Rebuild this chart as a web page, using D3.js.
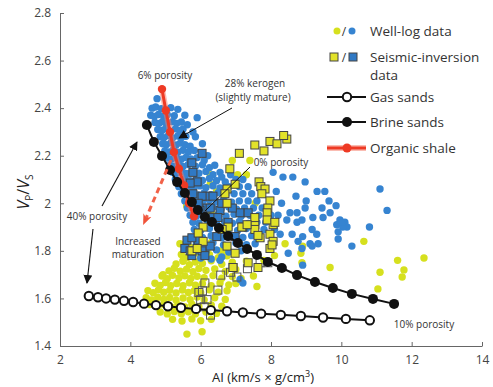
<!DOCTYPE html>
<html><head><meta charset="utf-8">
<script src="https://cdn.jsdelivr.net/npm/d3@7"></script>
<style>body{margin:0;background:#fff}svg{display:block}text{font-family:"Open Sans",sans-serif}</style>
</head><body><svg id="c" width="493" height="387"></svg>
<script>
// ---------- DATA ----------
const xTicks = [2,4,6,8,10,12,14];
const yTicks = [1.4,1.6,1.8,2.0,2.2,2.4,2.6,2.8];
const yTickLabels = ["1.4","1.6","1.8","2","2.2","2.4","2.6","2.8"];

const gasSands = [[2.82,1.61],[3.08,1.605],[3.31,1.60],[3.56,1.595],[3.82,1.59],[4.08,1.585],[4.39,1.578],[4.73,1.572],[5.07,1.567],[5.44,1.561],[5.87,1.556],[6.29,1.551],[6.75,1.546],[7.20,1.541],[7.72,1.536],[8.28,1.531],[8.85,1.526],[9.48,1.520],[10.13,1.514],[10.81,1.508]];
const brineSands = [[4.47,2.329],[4.67,2.258],[4.90,2.199],[5.13,2.14],[5.33,2.089],[5.55,2.043],[5.75,2.005],[5.92,1.972],[6.12,1.942],[6.32,1.921],[6.52,1.896],[6.78,1.862],[7.06,1.833],[7.32,1.808],[7.60,1.783],[7.91,1.753],[8.31,1.728],[8.74,1.698],[9.25,1.669],[9.76,1.644],[10.30,1.619],[10.90,1.598],[11.50,1.577]];
const organicShale = [[4.90,2.48],[5.01,2.39],[5.13,2.30],[5.24,2.215],[5.38,2.145],[5.53,2.075],[5.67,2.0],[5.81,1.945]];

const wellLogBlue = [
[4.76,2.44],
[4.62,2.40],[4.72,2.405],[4.88,2.398],[5.15,2.402],[5.35,2.395],
[4.58,2.37],[4.68,2.365],[4.8,2.373],[4.95,2.366],[5.05,2.372],[5.25,2.368],[5.55,2.37],[5.9,2.36],
[4.7,2.34],[4.82,2.336],[4.92,2.344],[5.02,2.335],[5.2,2.343],[5.32,2.336],[5.45,2.342],[5.62,2.33],
[4.78,2.31],[4.9,2.306],[5.0,2.314],[5.1,2.305],[5.28,2.313],[5.4,2.306],[5.5,2.312],[5.78,2.30],
[4.85,2.28],[4.95,2.276],[5.08,2.284],[5.2,2.275],[5.35,2.283],[5.45,2.276],[5.58,2.282],[5.85,2.28],[6.05,2.25],
[4.92,2.25],[5.02,2.246],[5.15,2.254],[5.3,2.245],[5.42,2.253],[5.55,2.246],[5.7,2.24],
[4.98,2.22],[5.1,2.216],[5.22,2.224],[5.35,2.215],[5.5,2.223],[5.65,2.216],[5.82,2.222],[6.2,2.20],
[5.05,2.19],[5.18,2.186],[5.3,2.194],[5.45,2.185],[5.58,2.193],[5.72,2.186],[5.9,2.192],[6.1,2.18],[6.4,2.16],
[5.12,2.16],[5.25,2.156],[5.38,2.164],[5.5,2.155],[5.65,2.163],[5.85,2.156],[6.05,2.162],[6.25,2.15],[6.55,2.13],
[5.2,2.13],[5.32,2.126],[5.45,2.134],[5.6,2.125],[5.75,2.133],[5.95,2.126],[6.15,2.134],[6.35,2.12],[6.6,2.11],[6.85,2.12],
[5.28,2.10],[5.4,2.096],[5.55,2.104],[5.7,2.095],[5.88,2.103],[6.05,2.096],[6.25,2.104],[6.45,2.095],[6.7,2.09],[7.0,2.10],[7.2,2.10],
[5.38,2.07],[5.5,2.066],[5.65,2.074],[5.8,2.065],[5.98,2.073],[6.15,2.066],[6.35,2.074],[6.55,2.065],[6.8,2.07],[7.1,2.07],[7.35,2.07],
[5.45,2.04],[5.6,2.036],[5.75,2.044],[5.92,2.035],[6.1,2.043],[6.3,2.036],[6.5,2.044],[6.72,2.035],[6.95,2.04],[7.2,2.04],[7.45,2.04],
[5.55,2.01],[5.7,2.006],[5.88,2.014],[6.05,2.005],[6.25,2.013],[6.45,2.006],[6.65,2.014],[6.88,2.005],[7.1,2.01],[7.35,2.01],[7.6,2.01],
[5.62,1.98],[5.8,1.976],[5.98,1.984],[6.15,1.975],[6.35,1.983],[6.58,1.976],[6.8,1.984],[7.02,1.975],[7.25,1.98],[7.5,1.98],[7.75,1.98],
[5.7,1.95],[5.88,1.946],[6.08,1.954],[6.3,1.945],[6.5,1.953],[6.72,1.946],[6.95,1.954],[7.15,1.945],[7.4,1.95],[7.65,1.95],[8.0,1.95],
[5.78,1.92],[5.95,1.916],[6.2,1.924],[6.45,1.915],[6.68,1.923],[6.9,1.916],[7.1,1.924],[7.35,1.915],[7.6,1.92],[7.85,1.92],
[5.82,1.89],[6.0,1.886],[6.25,1.894],[6.55,1.885],[6.8,1.893],[7.05,1.886],[7.3,1.894],[7.55,1.885],[7.8,1.89],[8.1,1.89],
[5.85,1.86],[6.05,1.856],[6.3,1.864],[6.6,1.855],[6.9,1.863],[7.2,1.856],[7.45,1.864],[7.7,1.86],
[5.88,1.83],[6.1,1.826],[6.35,1.834],[6.65,1.825],[7.0,1.833],[7.3,1.826],[7.55,1.83],
[5.9,1.80],[6.15,1.796],[6.45,1.804],[6.8,1.795],[7.15,1.80],
[6.0,1.77],[6.3,1.766],[6.6,1.774],
[8.06,2.13],[8.34,2.11],[8.62,2.11],[8.97,2.09],[8.71,2.03],[9.31,2.05],[9.53,2.05],[9.65,2.01],[9.45,1.98],[9.85,1.99],
[11.1,2.06],[11.3,1.97],[8.97,1.98],[8.74,1.96],[8.54,1.96],[8.88,1.93],[9.19,1.94],[9.48,1.94],[9.68,1.96],[9.96,1.93],
[10.1,1.92],[10.16,1.90],[8.74,1.92],[9.17,1.89],[8.6,1.87],[8.9,1.86],[9.3,1.87],[8.77,1.84],[9.11,1.83],[9.34,1.83],
[8.88,1.81],[9.17,1.82],[8.49,1.79],[9.87,1.91],[10.04,1.90],[10.0,1.92],[9.91,1.88],[9.91,1.85],[10.3,1.82],[10.8,1.90],
[8.9,1.74],[8.26,1.87],[8.3,2.0],[8.45,1.93],[8.2,1.95],[7.2,1.665],[7.12,1.68],[6.55,1.76],[8.15,2.05],[9.0,2.01]
];

const wellLogYellow = [
[6.0,1.845],[6.3,1.835],
[5.7,1.815],[5.95,1.805],[6.2,1.812],[6.55,1.80],
[5.45,1.785],[5.62,1.772],[5.8,1.788],[6.0,1.776],[6.25,1.784],[6.5,1.771],[6.75,1.779],
[5.3,1.745],[5.5,1.756],[5.68,1.742],[5.85,1.753],[6.05,1.747],[6.3,1.758],[6.6,1.744],[6.9,1.752],[7.3,1.757],
[5.1,1.716],[5.25,1.727],[5.42,1.714],[5.6,1.723],[5.78,1.712],[5.95,1.726],[6.15,1.718],[6.4,1.724],[6.7,1.713],[7.0,1.722],
[4.9,1.694],[5.05,1.683],[5.2,1.697],[5.38,1.686],[5.55,1.695],[5.72,1.684],[5.9,1.693],[6.1,1.687],[6.35,1.696],[6.6,1.685],[6.9,1.692],[7.15,1.684],[7.5,1.694],
[4.7,1.664],[4.85,1.655],[5.0,1.667],[5.15,1.654],[5.32,1.663],[5.5,1.653],[5.68,1.666],[5.85,1.656],[6.05,1.662],[6.3,1.654],[6.55,1.665],[6.8,1.657],[7.0,1.663],[7.6,1.65],
[4.5,1.633],[4.65,1.624],[4.8,1.636],[4.95,1.626],[5.12,1.634],[5.3,1.623],[5.48,1.635],[5.65,1.625],[5.82,1.633],[6.0,1.624],[6.25,1.636],[6.5,1.626],[6.75,1.632],
[4.45,1.603],[4.6,1.594],[4.78,1.605],[4.95,1.596],[5.12,1.604],[5.3,1.593],[5.5,1.602],[5.7,1.595],[5.9,1.606],[6.1,1.594],[6.4,1.603],[6.7,1.596],
[4.55,1.574],[4.75,1.566],[4.95,1.575],[5.15,1.565],[5.35,1.573],[5.55,1.564],[5.75,1.576],[5.95,1.566],[6.3,1.573],[6.6,1.567],
[4.85,1.543],[5.05,1.535],[5.25,1.545],[5.45,1.536],[5.65,1.544],[5.85,1.535],[6.15,1.543],[6.45,1.537],
[5.2,1.512],[5.47,1.505],[5.75,1.514],[6.0,1.506],[6.3,1.512],
[5.61,1.45],[6.04,1.46],[4.93,1.70],[5.41,1.83],
[6.27,2.12],[6.27,2.08],[6.45,2.05],[7.05,2.12],[6.9,2.18],[7.3,2.12],[7.55,2.0],[6.3,1.96],[5.6,1.99],[5.5,1.76],
[8.4,1.83],[8.9,1.82],[8.88,1.75],[8.85,1.79],[9.68,1.73],[10.64,1.84],[11.1,1.71],[11.6,1.76],[11.78,1.72],[11.73,1.69],
[11.04,1.64],[12.35,1.77],[7.4,2.18],[6.7,1.80],[7.8,1.76],[8.1,1.78]
];

const seismicYellow = [
[7.54,2.245],[7.8,2.22],[7.97,2.26],[8.17,2.25],[8.45,2.27],[8.36,2.285],[7.1,2.21],[6.83,2.145],[6.75,2.06],
[7.66,2.09],[7.71,2.07],[7.83,2.06],[7.74,2.04],[7.97,2.01],[7.91,1.98],[7.89,1.96],[8.06,1.91],[7.54,1.91],
[6.98,2.08],[6.69,2.04],[6.75,2.0],[7.54,1.94],[7.89,1.93],[8.11,1.92],[7.17,1.9],[7.54,1.89],[7.69,1.855],
[7.97,1.87],[8.06,1.84],[7.97,1.81],[6.78,1.9],[6.61,1.89],[6.07,1.9],[5.93,1.875],[6.07,1.84],[5.75,1.80],
[5.9,1.81],[6.75,1.82],[6.98,1.79],[7.35,1.75],[6.92,1.73],[7.63,1.865],[8.03,1.825],[7.32,1.91],[7.63,1.73]
];

const seismicBlue = [
[6.04,2.21],[5.75,2.17],[5.78,2.13],[5.9,2.09],[6.18,2.03],[6.35,2.03],[6.18,1.98],[5.98,1.97],[6.35,1.94],
[7.12,1.96],[7.35,1.96],[6.98,1.86],[5.75,1.78],[5.61,1.845],[5.55,1.81],[5.7,2.085],[5.78,2.04],[6.04,2.03],
[5.93,2.0],[6.27,1.98],[6.55,1.97],[6.49,1.94],[5.93,1.845],[5.75,1.855],[5.7,1.80],[6.04,1.80],[6.27,1.82],
[6.46,1.86],[6.12,1.78],[6.78,1.92],[6.6,2.0],[6.9,1.98],[7.2,1.90]
];

const seismicOpen = [
[5.95,1.625],[6.05,1.632],[6.12,1.665],[6.49,1.635],[6.57,1.698],[6.85,1.71],[7.03,1.69],[6.92,1.73],
[7.33,1.725],[6.0,1.595],[6.18,1.595],[6.1,1.565],[6.28,1.53],[7.69,1.75],[7.91,1.75]
];

// ---------- CHART ----------
const svg = d3.select("#c");
const x = d3.scaleLinear().domain([2,14]).range([60,482]);
const y = d3.scaleLinear().domain([1.4,2.8]).range([346,13]);

const defs = svg.append("defs");
defs.append("marker").attr("id","ah").attr("viewBox","0 0 10 10").attr("refX",9).attr("refY",5)
  .attr("markerWidth",9).attr("markerHeight",9).attr("markerUnits","userSpaceOnUse").attr("orient","auto")
  .append("path").attr("d","M0,0 L10,5 L0,10 Z").attr("fill","#111");
defs.append("marker").attr("id","ahr").attr("viewBox","0 0 10 10").attr("refX",8).attr("refY",5)
  .attr("markerWidth",11).attr("markerHeight",11).attr("markerUnits","userSpaceOnUse").attr("orient","auto")
  .append("path").attr("d","M0,1 L10,5 L0,9 L3,5 Z").attr("fill","#f0533a");

// axes
const gx = svg.append("g").attr("transform","translate(0,346)")
  .call(d3.axisBottom(x).tickValues(xTicks).tickSizeInner(-4).tickSizeOuter(0).tickPadding(9).tickFormat(d3.format("d")));
const gy = svg.append("g").attr("transform","translate(60,0)")
  .call(d3.axisLeft(y).tickValues(yTicks).tickSizeInner(-4).tickSizeOuter(0).tickPadding(9).tickFormat((d,i)=>yTickLabels[i]));
[gx,gy].forEach(g=>{
  g.select(".domain").attr("stroke","#666");
  g.selectAll(".tick line").attr("stroke","#666");
  g.selectAll(".tick text").attr("fill","#444").style("font-size","12px").style("font-family","'Open Sans',sans-serif");
});

const blue="#3684d1", yellow="#d6e01e", sqYellow="#e2e22a";

// scatter
svg.append("g").selectAll("circle").data(wellLogYellow).join("circle")
  .attr("cx",d=>x(d[0])).attr("cy",d=>y(d[1])).attr("r",3.7).attr("fill",yellow);
svg.append("g").selectAll("circle").data(wellLogBlue).join("circle")
  .attr("cx",d=>x(d[0])).attr("cy",d=>y(d[1])).attr("r",3.7).attr("fill",blue);
const sq=8;
svg.append("g").selectAll("rect").data(seismicOpen).join("rect")
  .attr("x",d=>x(d[0])-sq/2).attr("y",d=>y(d[1])-sq/2).attr("width",sq).attr("height",sq)
  .attr("fill","none").attr("stroke","#555").attr("stroke-width",1);
svg.append("g").selectAll("rect").data(seismicBlue).join("rect")
  .attr("x",d=>x(d[0])-sq/2).attr("y",d=>y(d[1])-sq/2).attr("width",sq).attr("height",sq)
  .attr("fill","#3079c4").attr("stroke","#444").attr("stroke-width",1);
svg.append("g").selectAll("rect").data(seismicYellow).join("rect")
  .attr("x",d=>x(d[0])-sq/2).attr("y",d=>y(d[1])-sq/2).attr("width",sq).attr("height",sq)
  .attr("fill",sqYellow).attr("stroke","#444").attr("stroke-width",1);

const line = d3.line().x(d=>x(d[0])).y(d=>y(d[1]));

// organic shale
svg.append("path").datum(organicShale).attr("d",line).attr("fill","none").attr("stroke","#f57a66").attr("stroke-opacity",0.5).attr("stroke-width",6);
svg.append("path").datum(organicShale).attr("d",line).attr("fill","none").attr("stroke","#ee3a24").attr("stroke-width",3);
svg.append("g").selectAll("circle").data(organicShale).join("circle")
  .attr("cx",d=>x(d[0])).attr("cy",d=>y(d[1])).attr("r",4.2).attr("fill","#ee3a24");

// brine
svg.append("path").datum(brineSands).attr("d",line).attr("fill","none").attr("stroke","#111").attr("stroke-width",2);
svg.append("g").selectAll("circle").data(brineSands).join("circle")
  .attr("cx",d=>x(d[0])).attr("cy",d=>y(d[1])).attr("r",5).attr("fill","#111");

// gas
svg.append("path").datum(gasSands).attr("d",line).attr("fill","none").attr("stroke","#111").attr("stroke-width",2);
svg.append("g").selectAll("circle").data(gasSands).join("circle")
  .attr("cx",d=>x(d[0])).attr("cy",d=>y(d[1])).attr("r",4.2).attr("fill","#fff").attr("stroke","#111").attr("stroke-width",2);

// annotation arrows
const ann = svg.append("g");
ann.append("line").attr("x1",232).attr("y1",108).attr("x2",179).attr("y2",138).attr("stroke","#111").attr("stroke-width",1).attr("marker-end","url(#ah)");
ann.append("line").attr("x1",250).attr("y1",167).attr("x2",205).attr("y2",211).attr("stroke","#111").attr("stroke-width",1);
ann.append("line").attr("x1",102).attr("y1",206).attr("x2",137).attr("y2",142).attr("stroke","#111").attr("stroke-width",1.1).attr("marker-end","url(#ah)");
ann.append("line").attr("x1",93).attr("y1",229).attr("x2",87).attr("y2",283).attr("stroke","#111").attr("stroke-width",1.1).attr("marker-end","url(#ah)");
ann.append("line").attr("x1",171).attr("y1",160).attr("x2",144).attr("y2",223).attr("stroke","#f26249").attr("stroke-width",3)
  .attr("stroke-dasharray","6,4").attr("marker-end","url(#ahr)");

const t = (xx,yy,s,anchor="middle",size=10)=>ann.append("text").attr("x",xx).attr("y",yy).attr("text-anchor",anchor)
  .attr("fill","#333").style("font-size",size+"px").text(s);
t(165,79,"6% porosity");
t(255,87,"28% kerogen");
t(253,101,"(slightly mature)");
t(281,166,"0% porosity");
t(97,220,"40% porosity");
t(138,245,"Increased");
t(138,258,"maturation");
t(424,328,"10% porosity");

// axis titles
svg.append("text").attr("x",263).attr("y",382).attr("text-anchor","middle").attr("fill","#222").style("font-size","13px")
  .html('AI (km/s × g/cm<tspan dy="-5" font-size="9px">3</tspan><tspan dy="5">)</tspan>');
const yl = svg.append("text").attr("transform","translate(29,192) rotate(-90)").attr("text-anchor","middle").attr("fill","#222").style("font-size","16px");
yl.append("tspan").attr("font-style","italic").text("V");
yl.append("tspan").attr("dy",4).style("font-size","10px").text("P");
yl.append("tspan").attr("dy",-4).text("/");
yl.append("tspan").attr("font-style","italic").text("V");
yl.append("tspan").attr("dy",4).style("font-size","10px").text("S");

// legend
const lg = svg.append("g");
const lt=(xx,yy,s)=>lg.append("text").attr("x",xx).attr("y",yy).attr("fill","#333").style("font-size","13.5px").attr("dominant-baseline","central").text(s);
lg.append("circle").attr("cx",337).attr("cy",31).attr("r",3.5).attr("fill",yellow);
lg.append("text").attr("x",344).attr("y",31).attr("text-anchor","middle").attr("dominant-baseline","central").style("font-size","12px").attr("fill","#333").text("/");
lg.append("circle").attr("cx",352).attr("cy",31).attr("r",3.5).attr("fill",blue);
lt(370,31,"Well-log data");
lg.append("rect").attr("x",330).attr("y",53).attr("width",8).attr("height",8).attr("fill",sqYellow).attr("stroke","#444");
lg.append("text").attr("x",344).attr("y",57).attr("text-anchor","middle").attr("dominant-baseline","central").style("font-size","12px").attr("fill","#333").text("/");
lg.append("rect").attr("x",349).attr("y",53).attr("width",8).attr("height",8).attr("fill","#3079c4").attr("stroke","#444");
lt(370,57,"Seismic-inversion");
lt(370,75,"data");
lg.append("line").attr("x1",327).attr("x2",366).attr("y1",97).attr("y2",97).attr("stroke","#111").attr("stroke-width",2);
lg.append("circle").attr("cx",347).attr("cy",97).attr("r",4.2).attr("fill","#fff").attr("stroke","#111").attr("stroke-width",2);
lt(370,97,"Gas sands");
lg.append("line").attr("x1",327).attr("x2",366).attr("y1",122).attr("y2",122).attr("stroke","#111").attr("stroke-width",2);
lg.append("circle").attr("cx",347).attr("cy",122).attr("r",5).attr("fill","#111");
lt(370,122,"Brine sands");
lg.append("line").attr("x1",327).attr("x2",366).attr("y1",148).attr("y2",148).attr("stroke","#f57a66").attr("stroke-opacity",0.5).attr("stroke-width",6);
lg.append("line").attr("x1",327).attr("x2",366).attr("y1",148).attr("y2",148).attr("stroke","#ee3a24").attr("stroke-width",3);
lg.append("circle").attr("cx",347).attr("cy",148).attr("r",4.5).attr("fill","#ee3a24");
lt(370,148,"Organic shale");
</script></body></html>
